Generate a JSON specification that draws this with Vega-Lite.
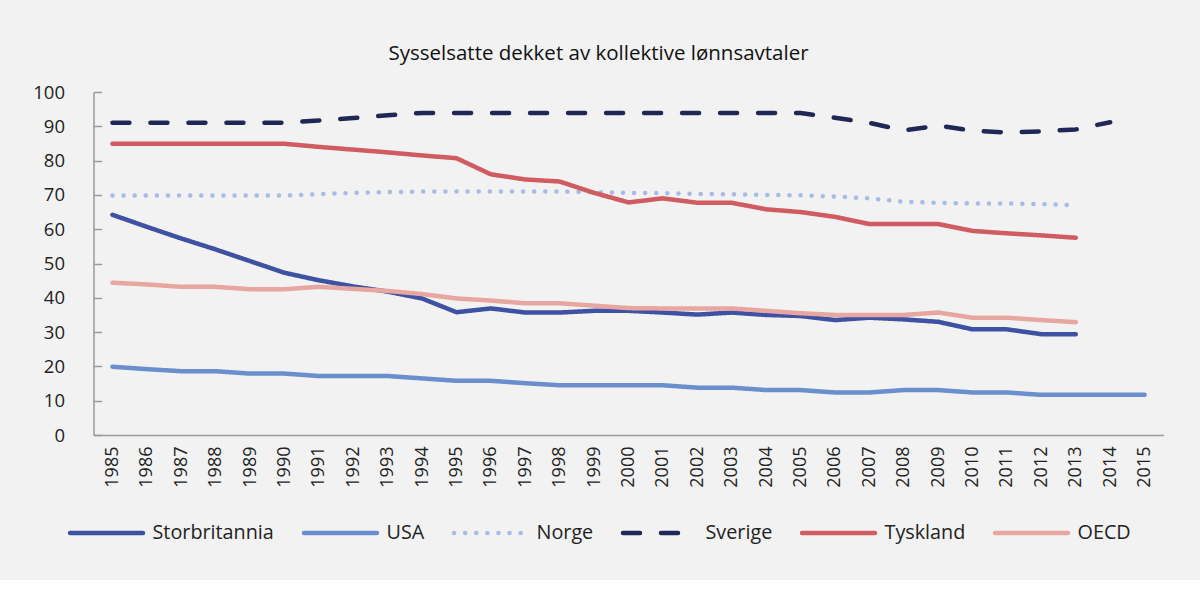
{
  "$schema": "https://vega.github.io/schema/vega-lite/v6.json",
  "width": 1070,
  "height": 343,
  "autosize": {"type": "none"},
  "padding": {"left": 93.5, "top": 92, "right": 36.5, "bottom": 145},
  "background": "#f2f2f2",
  "config": {
    "view": {"stroke": null},
    "font": "Open Sans"
  },
  "title": {
    "text": "Sysselsatte dekket av kollektive lønnsavtaler",
    "fontSize": 20.5,
    "fontWeight": 500,
    "color": "#111111",
    "font": "Open Sans",
    "anchor": "middle",
    "dx": -30,
    "offset": 19
  },
  "data": {
    "values": [
      {"year": 1985, "series": "Storbritannia", "value": 64.2},
      {"year": 1986, "series": "Storbritannia", "value": 60.7},
      {"year": 1987, "series": "Storbritannia", "value": 57.3},
      {"year": 1988, "series": "Storbritannia", "value": 54.1},
      {"year": 1989, "series": "Storbritannia", "value": 50.7},
      {"year": 1990, "series": "Storbritannia", "value": 47.3},
      {"year": 1991, "series": "Storbritannia", "value": 45.1},
      {"year": 1992, "series": "Storbritannia", "value": 43.3},
      {"year": 1993, "series": "Storbritannia", "value": 41.8},
      {"year": 1994, "series": "Storbritannia", "value": 39.8},
      {"year": 1995, "series": "Storbritannia", "value": 35.8},
      {"year": 1996, "series": "Storbritannia", "value": 36.9},
      {"year": 1997, "series": "Storbritannia", "value": 35.7},
      {"year": 1998, "series": "Storbritannia", "value": 35.7},
      {"year": 1999, "series": "Storbritannia", "value": 36.2},
      {"year": 2000, "series": "Storbritannia", "value": 36.2},
      {"year": 2001, "series": "Storbritannia", "value": 35.7},
      {"year": 2002, "series": "Storbritannia", "value": 35.1},
      {"year": 2003, "series": "Storbritannia", "value": 35.7},
      {"year": 2004, "series": "Storbritannia", "value": 35.0},
      {"year": 2005, "series": "Storbritannia", "value": 34.7},
      {"year": 2006, "series": "Storbritannia", "value": 33.5},
      {"year": 2007, "series": "Storbritannia", "value": 34.2},
      {"year": 2008, "series": "Storbritannia", "value": 33.7},
      {"year": 2009, "series": "Storbritannia", "value": 33.0},
      {"year": 2010, "series": "Storbritannia", "value": 30.8},
      {"year": 2011, "series": "Storbritannia", "value": 30.8},
      {"year": 2012, "series": "Storbritannia", "value": 29.4},
      {"year": 2013, "series": "Storbritannia", "value": 29.4},
      {"year": 1985, "series": "USA", "value": 19.9},
      {"year": 1986, "series": "USA", "value": 19.2},
      {"year": 1987, "series": "USA", "value": 18.6},
      {"year": 1988, "series": "USA", "value": 18.6},
      {"year": 1989, "series": "USA", "value": 17.9},
      {"year": 1990, "series": "USA", "value": 17.9},
      {"year": 1991, "series": "USA", "value": 17.2},
      {"year": 1992, "series": "USA", "value": 17.2},
      {"year": 1993, "series": "USA", "value": 17.2},
      {"year": 1994, "series": "USA", "value": 16.5},
      {"year": 1995, "series": "USA", "value": 15.8},
      {"year": 1996, "series": "USA", "value": 15.8},
      {"year": 1997, "series": "USA", "value": 15.1},
      {"year": 1998, "series": "USA", "value": 14.5},
      {"year": 1999, "series": "USA", "value": 14.5},
      {"year": 2000, "series": "USA", "value": 14.5},
      {"year": 2001, "series": "USA", "value": 14.5},
      {"year": 2002, "series": "USA", "value": 13.8},
      {"year": 2003, "series": "USA", "value": 13.8},
      {"year": 2004, "series": "USA", "value": 13.1},
      {"year": 2005, "series": "USA", "value": 13.1},
      {"year": 2006, "series": "USA", "value": 12.4},
      {"year": 2007, "series": "USA", "value": 12.4},
      {"year": 2008, "series": "USA", "value": 13.1},
      {"year": 2009, "series": "USA", "value": 13.1},
      {"year": 2010, "series": "USA", "value": 12.4},
      {"year": 2011, "series": "USA", "value": 12.4},
      {"year": 2012, "series": "USA", "value": 11.7},
      {"year": 2013, "series": "USA", "value": 11.7},
      {"year": 2014, "series": "USA", "value": 11.7},
      {"year": 2015, "series": "USA", "value": 11.7},
      {"year": 1985, "series": "Norge", "value": 69.8},
      {"year": 1986, "series": "Norge", "value": 69.8},
      {"year": 1987, "series": "Norge", "value": 69.8},
      {"year": 1988, "series": "Norge", "value": 69.8},
      {"year": 1989, "series": "Norge", "value": 69.8},
      {"year": 1990, "series": "Norge", "value": 69.8},
      {"year": 1991, "series": "Norge", "value": 70.2},
      {"year": 1992, "series": "Norge", "value": 70.6},
      {"year": 1993, "series": "Norge", "value": 70.8},
      {"year": 1994, "series": "Norge", "value": 71.0},
      {"year": 1995, "series": "Norge", "value": 71.0},
      {"year": 1996, "series": "Norge", "value": 71.0},
      {"year": 1997, "series": "Norge", "value": 71.0},
      {"year": 1998, "series": "Norge", "value": 71.0},
      {"year": 1999, "series": "Norge", "value": 70.8},
      {"year": 2000, "series": "Norge", "value": 70.6},
      {"year": 2001, "series": "Norge", "value": 70.5},
      {"year": 2002, "series": "Norge", "value": 70.3},
      {"year": 2003, "series": "Norge", "value": 70.2},
      {"year": 2004, "series": "Norge", "value": 70.0},
      {"year": 2005, "series": "Norge", "value": 69.9},
      {"year": 2006, "series": "Norge", "value": 69.5},
      {"year": 2007, "series": "Norge", "value": 69.0},
      {"year": 2008, "series": "Norge", "value": 68.0},
      {"year": 2009, "series": "Norge", "value": 67.7},
      {"year": 2010, "series": "Norge", "value": 67.5},
      {"year": 2011, "series": "Norge", "value": 67.5},
      {"year": 2012, "series": "Norge", "value": 67.3},
      {"year": 2013, "series": "Norge", "value": 67.0},
      {"year": 1985, "series": "Sverige", "value": 91.0},
      {"year": 1986, "series": "Sverige", "value": 91.0},
      {"year": 1987, "series": "Sverige", "value": 91.0},
      {"year": 1988, "series": "Sverige", "value": 91.0},
      {"year": 1989, "series": "Sverige", "value": 91.0},
      {"year": 1990, "series": "Sverige", "value": 91.0},
      {"year": 1991, "series": "Sverige", "value": 91.7},
      {"year": 1992, "series": "Sverige", "value": 92.4},
      {"year": 1993, "series": "Sverige", "value": 93.2},
      {"year": 1994, "series": "Sverige", "value": 93.9},
      {"year": 1995, "series": "Sverige", "value": 93.9},
      {"year": 1996, "series": "Sverige", "value": 93.9},
      {"year": 1997, "series": "Sverige", "value": 93.9},
      {"year": 1998, "series": "Sverige", "value": 93.9},
      {"year": 1999, "series": "Sverige", "value": 93.9},
      {"year": 2000, "series": "Sverige", "value": 93.9},
      {"year": 2001, "series": "Sverige", "value": 93.9},
      {"year": 2002, "series": "Sverige", "value": 93.9},
      {"year": 2003, "series": "Sverige", "value": 93.9},
      {"year": 2004, "series": "Sverige", "value": 93.9},
      {"year": 2005, "series": "Sverige", "value": 93.9},
      {"year": 2006, "series": "Sverige", "value": 92.5},
      {"year": 2007, "series": "Sverige", "value": 91.0},
      {"year": 2008, "series": "Sverige", "value": 88.8},
      {"year": 2009, "series": "Sverige", "value": 90.2},
      {"year": 2010, "series": "Sverige", "value": 88.7},
      {"year": 2011, "series": "Sverige", "value": 88.2},
      {"year": 2012, "series": "Sverige", "value": 88.5},
      {"year": 2013, "series": "Sverige", "value": 89.1},
      {"year": 2014, "series": "Sverige", "value": 91.2},
      {"year": 1985, "series": "Tyskland", "value": 84.9},
      {"year": 1986, "series": "Tyskland", "value": 84.9},
      {"year": 1987, "series": "Tyskland", "value": 84.9},
      {"year": 1988, "series": "Tyskland", "value": 84.9},
      {"year": 1989, "series": "Tyskland", "value": 84.9},
      {"year": 1990, "series": "Tyskland", "value": 84.9},
      {"year": 1991, "series": "Tyskland", "value": 84.0},
      {"year": 1992, "series": "Tyskland", "value": 83.2},
      {"year": 1993, "series": "Tyskland", "value": 82.4},
      {"year": 1994, "series": "Tyskland", "value": 81.5},
      {"year": 1995, "series": "Tyskland", "value": 80.7},
      {"year": 1996, "series": "Tyskland", "value": 76.0},
      {"year": 1997, "series": "Tyskland", "value": 74.5},
      {"year": 1998, "series": "Tyskland", "value": 73.9},
      {"year": 1999, "series": "Tyskland", "value": 70.6},
      {"year": 2000, "series": "Tyskland", "value": 67.8},
      {"year": 2001, "series": "Tyskland", "value": 69.0},
      {"year": 2002, "series": "Tyskland", "value": 67.7},
      {"year": 2003, "series": "Tyskland", "value": 67.7},
      {"year": 2004, "series": "Tyskland", "value": 65.8},
      {"year": 2005, "series": "Tyskland", "value": 65.0},
      {"year": 2006, "series": "Tyskland", "value": 63.6},
      {"year": 2007, "series": "Tyskland", "value": 61.5},
      {"year": 2008, "series": "Tyskland", "value": 61.5},
      {"year": 2009, "series": "Tyskland", "value": 61.5},
      {"year": 2010, "series": "Tyskland", "value": 59.5},
      {"year": 2011, "series": "Tyskland", "value": 58.8},
      {"year": 2012, "series": "Tyskland", "value": 58.2},
      {"year": 2013, "series": "Tyskland", "value": 57.5},
      {"year": 1985, "series": "OECD", "value": 44.4},
      {"year": 1986, "series": "OECD", "value": 43.9},
      {"year": 1987, "series": "OECD", "value": 43.2},
      {"year": 1988, "series": "OECD", "value": 43.2},
      {"year": 1989, "series": "OECD", "value": 42.5},
      {"year": 1990, "series": "OECD", "value": 42.5},
      {"year": 1991, "series": "OECD", "value": 43.2},
      {"year": 1992, "series": "OECD", "value": 42.6},
      {"year": 1993, "series": "OECD", "value": 42.0},
      {"year": 1994, "series": "OECD", "value": 41.1},
      {"year": 1995, "series": "OECD", "value": 39.8},
      {"year": 1996, "series": "OECD", "value": 39.2},
      {"year": 1997, "series": "OECD", "value": 38.4},
      {"year": 1998, "series": "OECD", "value": 38.4},
      {"year": 1999, "series": "OECD", "value": 37.7},
      {"year": 2000, "series": "OECD", "value": 37.0},
      {"year": 2001, "series": "OECD", "value": 36.9},
      {"year": 2002, "series": "OECD", "value": 36.9},
      {"year": 2003, "series": "OECD", "value": 36.9},
      {"year": 2004, "series": "OECD", "value": 36.2},
      {"year": 2005, "series": "OECD", "value": 35.5},
      {"year": 2006, "series": "OECD", "value": 35.0},
      {"year": 2007, "series": "OECD", "value": 35.0},
      {"year": 2008, "series": "OECD", "value": 35.0},
      {"year": 2009, "series": "OECD", "value": 35.7},
      {"year": 2010, "series": "OECD", "value": 34.2},
      {"year": 2011, "series": "OECD", "value": 34.2},
      {"year": 2012, "series": "OECD", "value": 33.5},
      {"year": 2013, "series": "OECD", "value": 32.9}
    ]
  },
  "mark": {"type": "line", "strokeWidth": 4.5, "strokeCap": "round", "strokeJoin": "round"},
  "encoding": {
    "x": {
      "field": "year",
      "type": "ordinal",
      "scale": {"type": "point", "padding": 0.55},
      "axis": {
        "title": null,
        "labelAngle": -90,
        "ticks": false,
        "domainColor": "#9a9a9a",
        "domainWidth": 1.5,
        "labelPadding": 11,
        "labelFontSize": 18,
        "labelColor": "#222222",
        "labelFont": "Open Sans"
      }
    },
    "y": {
      "field": "value",
      "type": "quantitative",
      "scale": {"domain": [0, 100], "nice": false},
      "axis": {
        "title": null,
        "values": [0, 10, 20, 30, 40, 50, 60, 70, 80, 90, 100],
        "grid": false,
        "tickSize": -8,
        "tickColor": "#9a9a9a",
        "tickWidth": 1.5,
        "domainColor": "#9a9a9a",
        "domainWidth": 1.5,
        "labelPadding": 37,
        "labelFontSize": 18.5,
        "labelColor": "#222222",
        "labelFont": "Open Sans"
      }
    },
    "color": {
      "field": "series",
      "type": "nominal",
      "scale": {
        "domain": ["Storbritannia", "USA", "Norge", "Sverige", "Tyskland", "OECD"],
        "range": ["#3f51a2", "#6b8fcd", "#a8bbe6", "#1f2756", "#d05b60", "#e8a6a0"]
      },
      "legend": {
        "title": null,
        "orient": "none",
        "direction": "horizontal",
        "legendX": -26,
        "legendY": 402,
        "symbolType": "stroke",
        "symbolSize": 5329,
        "symbolStrokeWidth": 4.5,
        "labelFontSize": 19.8,
        "labelColor": "#222222",
        "labelFont": "Open Sans",
        "labelOffset": 7,
        "columnPadding": 20,
        "encode": {"symbols": {"update": {"strokeCap": {"value": "round"}}}}
      }
    },
    "strokeDash": {
      "field": "series",
      "type": "nominal",
      "scale": {
        "domain": ["Storbritannia", "USA", "Norge", "Sverige", "Tyskland", "OECD"],
        "range": [[1, 0], [1, 0], [0.1, 11], [17, 21], [1, 0], [1, 0]]
      },
      "legend": null
    }
  }
}
